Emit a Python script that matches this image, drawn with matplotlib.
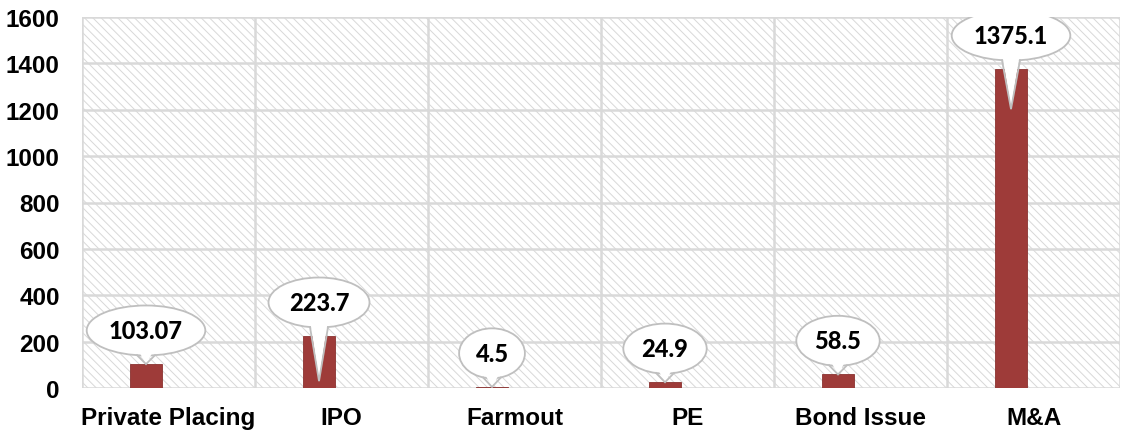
import matplotlib.pyplot as plt
from matplotlib.patches import Ellipse, Polygon
import numpy as np

# data
categories = ["Private Placing", "IPO", "Farmout", "PE", "Bond Issue", "M&A"]
values = [103.07, 223.7, 4.5, 24.9, 58.5, 1375.1]
labels = ["103.07", "223.7", "4.5", "24.9", "58.5", "1375.1"]
yticks = [0, 200, 400, 600, 800, 1000, 1200, 1400, 1600]

plt.rcParams["hatch.linewidth"] = 0.7

W, H = 1122, 435
fig = plt.figure(figsize=(W / 100, H / 100), dpi=100)
ax = fig.add_axes([82 / W, 1 - 389 / H, (1120 - 82) / W, (389 - 18) / H])

x = np.arange(len(categories))
ax.set_xlim(-0.5, len(categories) - 0.5)
ax.set_ylim(0, 1600)

# hatched background
ax.patch.set_facecolor("white")
ax.patch.set_hatch("\\\\\\\\")
ax.patch.set_edgecolor("#d8d8d8")

grid_c = "#d9d9d9"
for yv in yticks:
    ax.axhline(yv, color=grid_c, lw=1.8, zorder=1)
for xv in np.arange(-0.5, len(categories), 1.0):
    ax.axvline(xv, color=grid_c, lw=1.8, zorder=1)
for s in ax.spines.values():
    s.set_visible(False)

ax.bar(x - 0.13, values, width=0.19, color="#9e3b39", edgecolor="#8a3230",
       linewidth=0.6, zorder=3)

ax.set_yticks(yticks)
ax.set_xticks(x)
ax.set_xticklabels(categories)
ax.tick_params(length=0)
ax.tick_params(axis="x", pad=13)
ax.tick_params(axis="y", pad=16)
for t in ax.get_xticklabels() + ax.get_yticklabels():
    t.set_fontfamily("Liberation Sans")
    t.set_fontweight("bold")
    t.set_fontsize(17.5)

# callouts
px_x = (1120 - 82) / len(categories)   # px per x unit
px_y = (389 - 18) / 1600               # px per y unit
tip_depth = [0, 45, 0, 0, 0, 40]       # px the pointer dips into the bar
for i, (v, lab) in enumerate(zip(values, labels)):
    cx = x[i] - 0.13
    cy = v + 145
    w = (13 + 17.6 * len(lab)) / px_x
    h = 50 / px_y
    e = Ellipse((cx, cy), w, h, facecolor="white", edgecolor="#bfbfbf",
                lw=1.3, zorder=6)
    ax.add_patch(e)
    tip = v - tip_depth[i] / px_y
    base_y = cy - 0.35 * h
    hw = 9 / px_x
    tri = Polygon([(cx - hw, base_y), (cx, tip), (cx + hw, base_y)],
                  closed=True, facecolor="white", edgecolor="none", zorder=7)
    ax.add_patch(tri)
    # side edges of the pointer, starting on the ellipse rim
    yb = cy - (h / 2) * np.sqrt(1 - (hw / (w / 2)) ** 2)
    ax.plot([cx - hw, cx, cx + hw], [yb, tip, yb], color="#bfbfbf", lw=1.3,
            zorder=8, solid_joinstyle="miter")
    ax.text(cx, cy, lab, ha="center", va="center", fontsize=17,
            fontweight="black", family="Lato", zorder=9)

fig.savefig("out.png", dpi=100)
